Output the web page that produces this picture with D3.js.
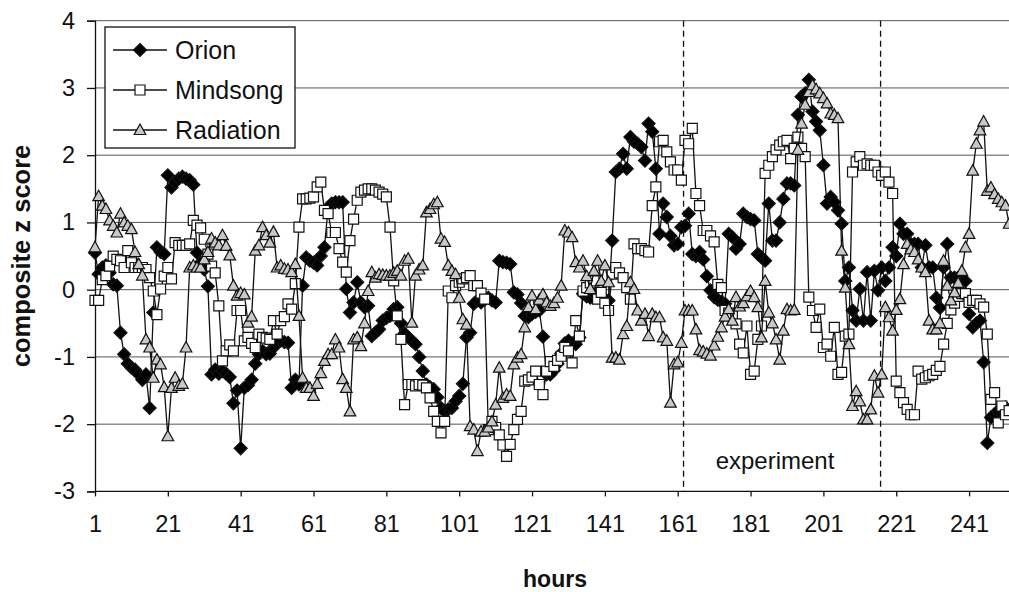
<!DOCTYPE html>
<html><head><meta charset="utf-8">
<script src="https://cdn.jsdelivr.net/npm/d3@7"></script>
<style>
body{margin:0;background:#fff;}
svg{display:block;font-family:"Liberation Sans",Arial,sans-serif;}
</style></head><body>
<svg id="chart" width="1009" height="592"></svg>
<script>
// ---- data (hours 1..252) ----
const orion = [
0.55,0.23,0.33,0.36,0.25,0.08,0.06,-0.64,-0.96,-1.10,
-1.16,-1.19,-1.26,-1.34,-1.26,-1.76,-0.34,0.63,0.56,0.53,
1.70,1.52,1.60,1.65,1.68,1.65,1.63,1.56,0.55,0.40,
0.30,0.05,-1.26,-1.19,-1.25,-1.21,-1.25,-1.30,-1.69,-1.50,
-2.36,-1.46,-1.42,-1.34,-1.10,-0.96,-0.91,-0.96,-0.95,-0.86,
-0.80,-0.76,-0.78,-0.79,-1.46,-1.34,-1.41,0.06,0.48,0.43,
0.40,0.36,0.50,0.63,1.22,1.28,1.30,1.30,1.30,0.01,
-0.34,-0.19,0.11,-0.19,-0.26,-0.24,-0.69,-0.64,-0.59,-0.46,
-0.42,-0.39,-0.29,-0.26,-0.50,-0.65,-0.71,-0.76,-0.81,-1.00,
-1.21,-1.41,-1.45,-1.48,-1.60,-1.76,-1.81,-1.78,-1.76,-1.66,
-1.58,-1.40,-0.71,-0.64,-0.21,-0.16,-0.19,-0.15,-0.12,-0.16,
-0.19,0.43,0.41,0.40,0.38,-0.04,-0.07,-0.20,-0.39,-0.41,
-0.36,-0.33,-0.31,-0.70,-1.26,-1.26,-1.20,-1.10,-0.95,-0.80,
-0.76,-0.80,-0.81,-0.71,-0.06,-0.10,-0.12,-0.06,-0.06,-0.12,
-0.15,-0.16,0.73,1.75,1.80,2.02,1.80,2.27,2.20,2.17,
2.12,1.92,2.47,2.35,1.80,0.83,1.28,1.08,0.80,0.66,
0.68,0.93,0.95,1.13,0.53,0.50,0.56,0.45,0.20,-0.01,
-0.11,-0.15,-0.18,-0.21,0.83,0.78,0.61,0.68,1.13,1.08,
1.05,1.03,0.53,0.48,0.43,1.28,0.73,0.73,1.00,1.35,
1.58,1.58,1.55,2.60,2.87,2.92,3.12,2.65,2.50,2.37,
1.85,1.28,1.38,1.30,1.18,0.98,0.13,0.33,-0.31,-0.46,
0.01,-0.46,0.26,-0.46,0.28,-0.01,0.33,0.13,0.33,0.63,
0.50,0.98,0.83,0.83,0.68,0.68,0.68,0.33,0.66,0.33,
0.33,-0.12,-0.27,0.33,0.68,0.18,0.18,0.18,0.13,0.13,
-0.36,-0.56,-0.50,-0.46,-1.08,-2.28,-1.90,-1.85,-1.80,-1.78,
-1.75,-1.80];

const mindsong = [
-0.16,-0.16,0.15,0.21,0.35,0.50,0.45,0.43,0.33,0.58,
0.40,0.33,0.33,0.33,0.30,0.18,-0.02,-0.37,0.01,0.20,
0.33,0.16,0.70,0.66,0.66,0.66,0.68,1.03,0.96,0.92,
0.75,0.53,0.35,0.25,-0.24,-1.06,-0.91,-0.82,-0.91,-0.31,
-0.31,-0.76,-0.71,-0.80,-0.86,-0.66,-0.71,-0.72,-0.74,-0.46,
-0.66,-0.46,-0.40,-0.21,-0.29,0.09,0.93,1.35,1.35,1.36,
1.38,1.53,1.60,1.18,1.13,0.85,0.85,0.61,0.41,0.26,
0.73,1.05,1.33,1.45,1.48,1.50,1.50,1.48,1.45,1.42,
1.38,0.93,0.13,-0.39,-0.74,-1.71,-1.41,-1.41,-1.43,-1.41,
-1.42,-1.46,-1.61,-1.81,-1.96,-2.13,-1.96,-0.02,-0.12,0.06,
0.11,0.16,0.18,0.21,0.06,0.06,-0.05,-0.14,-2.08,-1.96,
-2.05,-2.16,-2.31,-2.48,-2.30,-2.08,-1.93,-1.81,-1.36,-1.34,
-1.30,-1.21,-1.41,-1.56,-1.21,-1.07,-1.14,-1.05,-0.99,-0.86,
-0.91,-1.09,-0.46,-0.69,-0.02,0.03,0.10,0.13,-0.14,-0.04,
-0.20,-0.31,0.23,0.33,0.25,0.18,0.03,-0.14,0.68,0.61,
0.61,0.58,0.56,1.25,1.53,2.20,2.22,2.05,1.90,1.78,
1.78,1.63,2.22,2.17,2.40,1.43,1.25,0.88,0.88,0.80,
0.71,0.08,0.03,-0.31,-0.35,-0.39,-0.51,-0.81,-0.94,-0.54,
-1.26,-1.21,-0.74,-0.54,1.73,1.85,1.98,2.08,2.15,2.20,
2.22,1.95,2.10,2.27,2.10,1.98,-0.11,-0.31,-0.56,-0.29,
-0.86,-0.81,-0.99,-0.56,-1.26,-1.23,-0.69,-0.66,1.75,1.90,
1.98,1.85,1.87,1.85,1.85,1.75,1.70,1.75,1.60,1.43,
-1.36,-1.53,-1.68,-1.78,-1.86,-1.86,-1.21,-1.33,-1.31,-1.28,
-1.26,-1.20,-1.14,-0.81,-0.50,-0.30,-0.20,-0.10,-0.06,-0.06,
-0.19,-0.16,-0.16,-0.21,-0.26,-0.66,-1.63,-1.53,-1.98,-1.73,
-1.86,-1.80];

const radiation = [
0.63,1.39,1.25,1.20,1.03,0.95,0.85,1.13,1.00,0.95,
0.90,0.56,0.38,0.21,-0.74,-0.86,-1.31,-1.04,-1.11,-1.45,
-2.18,-1.46,-1.31,-1.43,-1.40,-0.86,0.33,0.36,0.33,0.33,
0.45,0.56,0.76,0.70,0.66,0.81,0.65,0.51,0.06,-0.09,
-0.05,-0.07,-0.49,-0.40,0.58,0.66,0.93,0.81,0.70,0.86,
0.33,0.36,0.31,0.30,0.26,0.38,-0.39,-1.31,-1.46,-1.46,
-1.58,-1.40,-1.24,-1.06,-0.96,-0.96,-0.74,-0.86,-1.33,-1.46,
-1.81,-0.74,-0.71,-0.84,-0.50,-0.02,0.26,0.18,0.23,0.22,
0.21,0.21,0.25,0.28,0.21,0.43,0.46,-0.49,0.21,0.30,
0.36,1.15,1.20,1.27,1.30,0.76,0.71,0.36,0.28,0.23,
-0.12,-0.44,-0.52,-2.03,-2.08,-2.40,-2.11,-2.11,-2.05,-1.96,
-1.71,-1.16,-1.61,-1.56,-1.58,-1.11,-1.01,-0.96,-0.56,-0.26,
-0.09,-0.29,-0.15,-0.07,-0.19,-0.24,-0.20,-0.12,0.06,0.88,
0.85,0.78,0.41,0.33,0.43,0.20,0.01,0.28,0.43,0.13,
0.36,0.11,-1.01,-1.01,-1.04,-0.66,-0.54,0.11,0.01,-0.31,
-0.46,-0.36,-0.69,-0.36,-0.41,-0.41,-0.71,-0.76,-1.68,-1.11,
-1.08,-0.79,-0.31,-0.31,-0.31,-0.59,-0.90,-0.92,-0.95,-0.98,
-0.83,-0.70,-0.56,-0.40,-0.29,-0.46,-0.11,-0.25,-0.20,-0.10,
-0.02,-0.11,-0.26,-0.71,0.13,-0.34,-0.50,-0.74,-1.04,-0.61,
-0.29,-0.31,-0.30,2.08,2.47,2.75,2.94,3.04,2.98,2.92,
2.85,2.77,2.62,2.60,2.55,0.58,0.03,-0.81,-1.73,-1.51,
-1.66,-1.93,-1.93,-1.78,-1.28,-1.53,-1.26,-0.26,-0.41,-0.61,
-0.30,-0.14,0.38,0.68,0.60,0.56,0.45,0.33,0.26,-0.46,
-0.59,-0.59,-0.50,0.43,0.06,-0.16,-0.04,0.10,0.28,0.63,
0.83,1.77,2.17,2.37,2.50,1.47,1.52,1.42,1.35,1.30,
1.25,0.98];

const xTicks = [1,21,41,61,81,101,121,141,161,181,201,221,241];
const yTicks = [-3,-2,-1,0,1,2,3,4];
const experimentBounds = [162.6, 216.7];
const seriesNames = ["Orion","Mindsong","Radiation"];

// ---- layout ----
const svg = d3.select("#chart");
const x = d3.scaleLinear().domain([1, 261]).range([95, 95 + 260*3.642]);
const y = d3.scaleLinear().domain([-3, 4]).range([491.4, 20.7]);

svg.append("rect").attr("width",1009).attr("height",592).attr("fill","#fff");

// gridlines
svg.append("g").selectAll("line").data(yTicks.filter(d=>d>-3)).join("line")
  .attr("x1",95).attr("x2",1009).attr("y1",d=>y(d)).attr("y2",d=>y(d))
  .attr("stroke","#555").attr("stroke-width",1);

// experiment dashed lines
svg.append("g").selectAll("line").data(experimentBounds).join("line")
  .attr("x1",d=>x(d)).attr("x2",d=>x(d)).attr("y1",y(4)).attr("y2",y(-3))
  .attr("stroke","#111").attr("stroke-width",1.3).attr("stroke-dasharray","6,4");

svg.append("text").attr("x",775).attr("y",469).attr("text-anchor","middle")
  .attr("font-size",24).attr("fill","#111").text("experiment");

// axes
const yAxis = d3.axisLeft(y).tickValues(yTicks).tickSize(8).tickPadding(12).tickFormat(d => String(d));
const gy = svg.append("g").attr("transform","translate(95,0)").call(yAxis);
gy.selectAll("text").attr("font-size",23.5).attr("fill","#111").attr("font-family","Liberation Sans, Arial, sans-serif");
gy.selectAll("line,path").attr("stroke","#111").attr("stroke-width",1.3);

const xAxis = d3.axisBottom(x).tickValues(xTicks).tickSize(5).tickPadding(19).tickSizeOuter(0).tickFormat(d => String(d));
const gx = svg.append("g").attr("transform",`translate(0,${y(-3)})`).call(xAxis);
gx.selectAll("text").attr("font-size",23.5).attr("fill","#111").attr("font-family","Liberation Sans, Arial, sans-serif");
gx.selectAll("line,path").attr("stroke","#111").attr("stroke-width",1.3);
gx.select("path.domain").attr("d",`M95,0H1060`);

// axis titles
svg.append("text").attr("x",555).attr("y",587).attr("text-anchor","middle")
  .attr("font-size",23).attr("font-weight","bold").attr("fill","#111").text("hours");
svg.append("text").attr("transform","translate(30,256) rotate(-90)").attr("text-anchor","middle")
  .attr("font-size",25.5).attr("font-weight","bold").attr("fill","#111").text("composite z score");

// markers
const diamondPath = "M0,-6.5L6.5,0L0,6.5L-6.5,0Z";
const trianglePath = "M0,-6L5.8,4.5L-5.8,4.5Z";
const squarePath = "M-5,-5H5V5H-5Z";
const styles = {
  Orion:{path:diamondPath, fill:"#000"},
  Mindsong:{path:squarePath, fill:"#fff"},
  Radiation:{path:trianglePath, fill:"#c8c8c8"}
};
const dataBySeries = {Orion:orion, Mindsong:mindsong, Radiation:radiation};

const line = d3.line().x((d,i)=>x(i+1)).y(d=>y(d));
const plot = svg.append("g");
seriesNames.forEach(name=>{
  const vals = dataBySeries[name];
  const g = plot.append("g");
  g.append("path").attr("d",line(vals)).attr("fill","none").attr("stroke","#111").attr("stroke-width",1.3);
  g.selectAll("path.m").data(vals).join("path").attr("class","m")
    .attr("d",styles[name].path)
    .attr("transform",(d,i)=>`translate(${x(i+1)},${y(d)})`)
    .attr("fill",styles[name].fill).attr("stroke","#111").attr("stroke-width",1.2);
});

// legend
const lg = svg.append("g");
lg.append("rect").attr("x",105).attr("y",27).attr("width",190).attr("height",121)
  .attr("fill","#fff").attr("stroke","#111").attr("stroke-width",1.3);
const legendY = [50, 90, 130];
seriesNames.forEach((name,i)=>{
  const yy = legendY[i];
  lg.append("line").attr("x1",113).attr("x2",167).attr("y1",yy).attr("y2",yy).attr("stroke","#111").attr("stroke-width",1.3);
  lg.append("path").attr("d",styles[name].path).attr("transform",`translate(140,${yy})`)
    .attr("fill",styles[name].fill).attr("stroke","#111").attr("stroke-width",1.2);
  lg.append("text").attr("x",175).attr("y",yy+9).attr("font-size",25).attr("fill","#111").text(name);
});
</script>
</body></html>
